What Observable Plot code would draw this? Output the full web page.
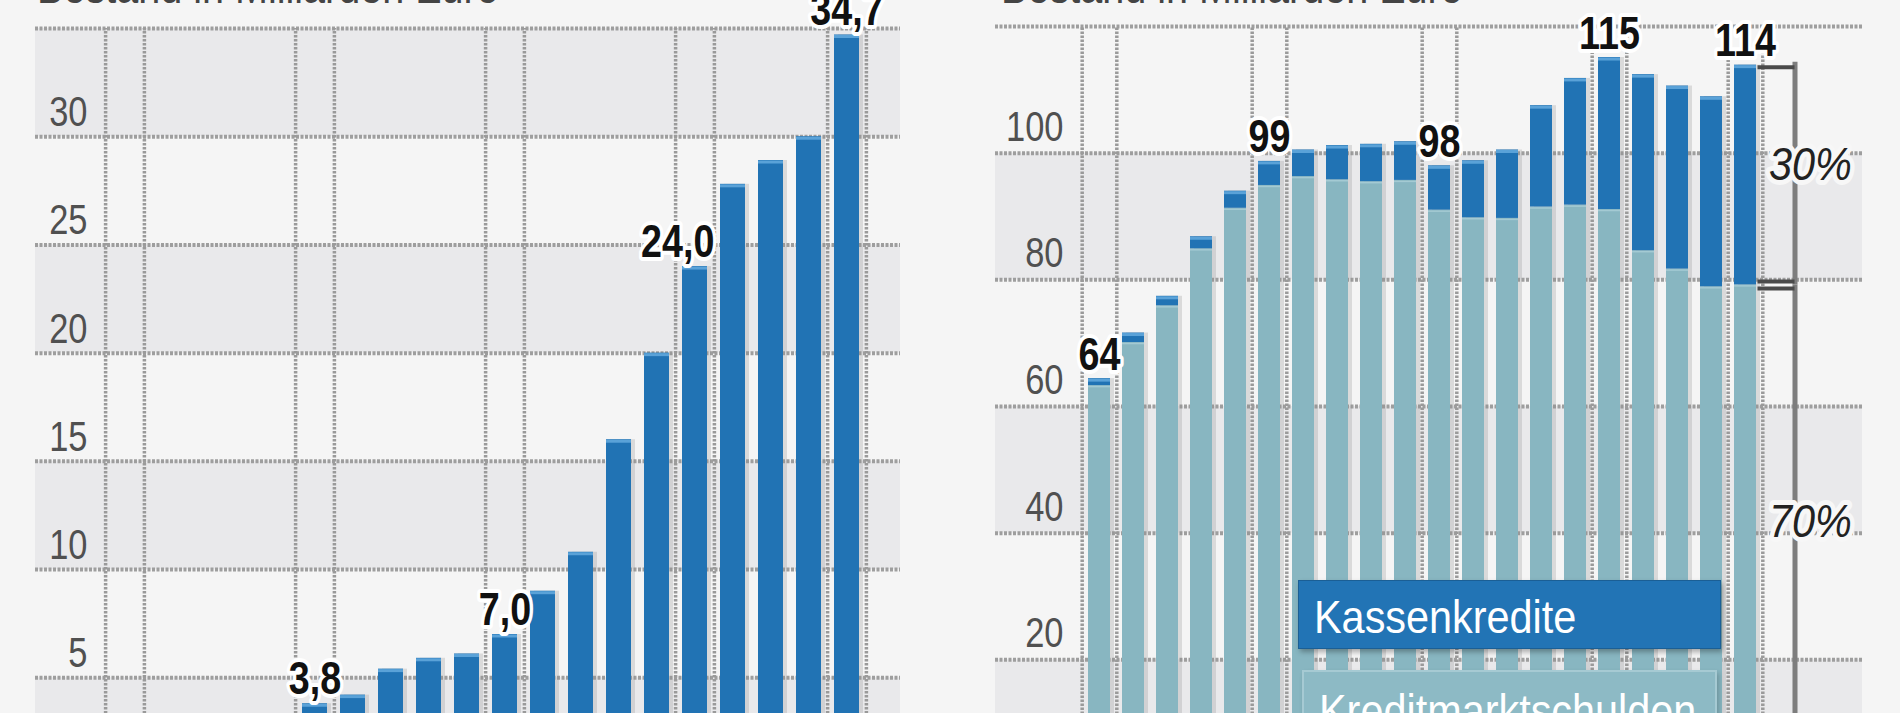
<!DOCTYPE html>
<html>
<head>
<meta charset="utf-8">
<script src="https://cdn.jsdelivr.net/npm/d3@7"></script>
<script src="https://cdn.jsdelivr.net/npm/@observablehq/plot@0.6"></script>
<style>
  html, body { margin: 0; padding: 0; background: #f5f5f5; }
  body {
    width: 1900px; height: 713px; overflow: hidden; position: relative;
    font-family: "Liberation Sans", Arial, sans-serif;
  }
  .panel { position: absolute; top: 0; }
  .subtitle { position: absolute; font-size: 46px; line-height: 46px; color: #444; white-space: nowrap; }
  .subtitle span { display: inline-block; transform: scaleX(0.86); transform-origin: left center; }
  .legend { position: absolute; color: #fff; font-size: 46px; line-height: 69px; box-sizing: border-box; padding-left: 15px; white-space: nowrap; overflow: hidden; }
  .legend span { display: inline-block; transform: scaleX(0.9); transform-origin: left center; }
</style>
</head>
<body>
<div class="subtitle" style="left:37px; top:-36px"><span id="sub1"></span></div>
<div class="subtitle" style="left:1001px; top:-36px"><span id="sub2"></span></div>
<div id="leftPanel" class="panel" style="left:0px"></div>
<div id="rightPanel" class="panel" style="left:950px"></div>
<div class="legend" style="left:1298px; top:580px; width:423px; height:69px; padding-top:2px; background:#2274b5; border:1px solid #1b5f95; box-shadow:2px 3px 5px rgba(0,0,0,0.3);"><span id="leg1"></span></div>
<div class="legend" style="left:1302px; top:670px; width:415px; height:80px; padding-top:5px; background:#8dbac5; border:2px solid #a6cad3; box-shadow:2px 3px 5px rgba(0,0,0,0.2);"><span id="leg2"></span></div>
<script>
// ---- data ----
const years = [1990, 1991, 1992, 1993, 1994, 1995, 1996, 1997, 1998, 1999,
               2000, 2001, 2002, 2003, 2004, 2005, 2006, 2007, 2008, 2009];
// Kassenkredite der Kommunen, Mrd. Euro
const kassenkredite = [1.1, 1.5, 1.5, 1.9, 2.7, 3.8, 4.2, 5.4, 5.9, 6.1,
                       7.0, 9.0, 10.8, 16.0, 20.0, 24.0, 27.8, 28.9, 30.0, 34.7];
// Kreditmarktschulden der Kommunen, Mrd. Euro
const kreditmarktschulden = [63.3, 70.1, 75.9, 84.9, 91.3, 94.9, 96.3, 95.8, 95.5, 95.7,
                             91.0, 89.8, 89.7, 91.5, 91.8, 91.1, 84.6, 81.7, 78.9, 79.2];
const markedYears = [1990, 1995, 2000, 2005, 2009];
const leftLabelYears = [1995, 2000, 2009];
const leftShiftedLabelYears = [2005];
const rightLabelYears = [1990, 1995, 2000, 2005, 2009];
const shareYears = [2009];
const leftGridTicks = [0, 5, 10, 15, 20, 25, 30, 35];
const leftTickLabels = [5, 10, 15, 20, 25, 30];
const rightGridTicks = [0, 20, 40, 60, 80, 100, 120];
const rightTickLabels = [20, 40, 60, 80, 100];
const leftBands = [[0, 5], [10, 15], [20, 25], [30, 35]];
const rightBands = [[0, 20], [40, 60], [80, 100]];
const subtitleText = "Bestand in Milliarden Euro";
const legendLabels = ["Kassenkredite", "Kreditmarktschulden"];

// ---- styles ----
const FONT = '"Liberation Sans", Arial, sans-serif';
const BLUE = "#2173b4";
const BLUE_TOP = "#5aa2d8";
const TEAL = "#88b6c1";
const TEAL_TOP = "#a4cad3";
const BAND = "#e9e9eb";
const GRID = "#9e9e9e";
const VLINE = "#9a9a9a";

document.getElementById("sub1").textContent = subtitleText;
document.getElementById("sub2").textContent = subtitleText;
document.getElementById("leg1").textContent = legendLabels[0];
document.getElementById("leg2").textContent = legendLabels[1];

const rows = years.map((year, i) => ({
  year,
  kk: kassenkredite[i],
  km: kreditmarktschulden[i],
  total: +(kassenkredite[i] + kreditmarktschulden[i]).toFixed(1)
}));
const fmtDe = v => d3.format(".1f")(v).replace(".", ",");
const fmtInt = v => d3.format(".0f")(v);

// horizontally condense svg text (condensed typeface look)
function condense(svg) {
  svg.querySelectorAll("text").forEach(t => {
    const italic = t.closest("[font-style='italic']");
    const s = italic ? 0.9 : 0.82;
    const tr = t.getAttribute("transform") || "";
    if (t.hasAttribute("x")) t.setAttribute("x", (+t.getAttribute("x")) / s);
    t.setAttribute("transform", (tr + ` scale(${s},1)`).trim());
  });
  return svg;
}

const gridMarks = (ticks, bands) => [
  Plot.rect(bands, {y1: d => d[0], y2: d => d[1], fill: BAND}),
  Plot.ruleY(ticks, {y: d => d, stroke: GRID, strokeWidth: 4, strokeDasharray: "3,1.5"})
];
const vline = {stroke: VLINE, strokeWidth: 3.5, strokeDasharray: "2.5,1.5"};

// ---- left chart ----
const leftStep = (873.4 - 97.6) / years.length;
const leftChart = Plot.plot({
  width: 950, height: 830,
  marginTop: 28, marginBottom: 44.5, marginLeft: 35, marginRight: 50,
  style: {background: "transparent", fontFamily: FONT, overflow: "visible"},
  x: {type: "band", domain: years, range: [97.6, 873.4], paddingInner: 0.34, paddingOuter: 0.17, axis: null},
  y: {domain: [0, 35], axis: null},
  marks: [
    ...gridMarks(leftGridTicks, leftBands),
    Plot.ruleX(markedYears, {x: d => d, y1: 0, y2: 35, dx: -leftStep / 2, ...vline}),
    Plot.ruleX(markedYears, {x: d => d, y1: 0, y2: 35, dx: leftStep / 2, ...vline}),
    Plot.text(leftTickLabels, {y: d => d, text: d => String(d), frameAnchor: "left", textAnchor: "end", dx: 52, dy: -24, fontSize: 42, fill: "#505050"}),
    Plot.barY(rows, {x: "year", y: "kk", fill: "#8a8a8a", fillOpacity: 0.25, dx: 4}),
    Plot.barY(rows, {x: "year", y: "kk", fill: BLUE}),
    Plot.tickY(rows, {x: "year", y: "kk", stroke: BLUE_TOP, strokeWidth: 3, dy: 1.5}),
    Plot.text(rows.filter(d => leftLabelYears.includes(d.year)), {
      x: "year", y: "kk", text: d => fmtDe(d.kk), lineAnchor: "bottom", dy: -10,
      fontSize: 46, fontWeight: "bold", fill: "#111", stroke: "white", strokeWidth: 8
    }),
    Plot.text(rows.filter(d => leftShiftedLabelYears.includes(d.year)), {
      x: "year", y: "kk", text: d => fmtDe(d.kk), lineAnchor: "bottom", dy: -10, textAnchor: "end", dx: leftStep / 2,
      fontSize: 46, fontWeight: "bold", fill: "#111", stroke: "white", strokeWidth: 8
    })
  ]
});
document.getElementById("leftPanel").appendChild(condense(leftChart));

// ---- right chart ----
const rightStep = (817.8 - 125.2) / years.length;
const bracketX = 49.5;
const shareRows = rows.filter(d => shareYears.includes(d.year));
const rightChart = Plot.plot({
  width: 950, height: 830,
  marginTop: 26, marginBottom: 44, marginLeft: 45, marginRight: 38,
  style: {background: "transparent", fontFamily: FONT, overflow: "visible"},
  x: {type: "band", domain: years, range: [125.2, 817.8], paddingInner: 0.36, paddingOuter: 0.18, axis: null},
  y: {domain: [0, 120], axis: null},
  marks: [
    ...gridMarks(rightGridTicks, rightBands),
    Plot.ruleX(markedYears, {x: d => d, y1: 0, y2: 120, dx: -rightStep / 2, ...vline}),
    Plot.ruleX(markedYears, {x: d => d, y1: 0, y2: 120, dx: rightStep / 2, ...vline}),
    Plot.text(rightTickLabels, {y: d => d, text: d => String(d), frameAnchor: "left", textAnchor: "end", dx: 68, dy: -26, fontSize: 42, fill: "#505050"}),
    Plot.barY(rows, {x: "year", y1: 0, y2: "total", fill: "#8a8a8a", fillOpacity: 0.25, dx: 4}),
    Plot.barY(rows, {x: "year", y1: 0, y2: "km", fill: TEAL}),
    Plot.barY(rows, {x: "year", y1: "km", y2: "total", fill: BLUE}),
    Plot.tickY(rows, {x: "year", y: "total", stroke: BLUE_TOP, strokeWidth: 3, dy: 1.5}),
    Plot.tickY(rows, {x: "year", y: "km", stroke: TEAL_TOP, strokeWidth: 1.5, dy: 1}),
    // bracket for shares
    Plot.ruleX(shareRows, {x: "year", y1: "km", y2: "total", dx: bracketX, insetBottom: 3, stroke: "#7d7d7d", strokeWidth: 5}),
    Plot.ruleX(shareRows, {x: "year", y1: 0, y2: "km", dx: bracketX, insetTop: 3, stroke: "#7d7d7d", strokeWidth: 5}),
    Plot.tickY(shareRows, {x: "year", y: "total", dx: 38.5, insetLeft: -15, stroke: "#4a4a4a", strokeWidth: 4, dy: 2}),
    Plot.tickY(shareRows, {x: "year", y: "km", dx: 38.5, insetLeft: -15, stroke: "#4a4a4a", strokeWidth: 4, dy: -3.5}),
    Plot.tickY(shareRows, {x: "year", y: "km", dx: 38.5, insetLeft: -15, stroke: "#4a4a4a", strokeWidth: 4, dy: 3.5}),
    Plot.text(shareRows, {
      x: "year", y: d => (d.km + d.total) / 2, text: d => Math.round(d.kk / d.total * 100) + "%",
      dx: 65, dy: -10, fontSize: 46, fontStyle: "italic", fill: "#222", stroke: "#f7f7f7", strokeWidth: 10
    }),
    Plot.text(shareRows, {
      x: "year", y: d => d.km / 2, text: d => Math.round(d.km / d.total * 100) + "%",
      dx: 65, dy: -13, fontSize: 46, fontStyle: "italic", fill: "#222", stroke: "#f7f7f7", strokeWidth: 10
    }),
    Plot.text(rows.filter(d => rightLabelYears.includes(d.year)), {
      x: "year", y: "total", text: d => fmtInt(d.total), lineAnchor: "bottom", dy: -9,
      fontSize: 46, fontWeight: "bold", fill: "#111", stroke: "white", strokeWidth: 8
    })
  ]
});
document.getElementById("rightPanel").appendChild(condense(rightChart));
</script>
</body>
</html>
